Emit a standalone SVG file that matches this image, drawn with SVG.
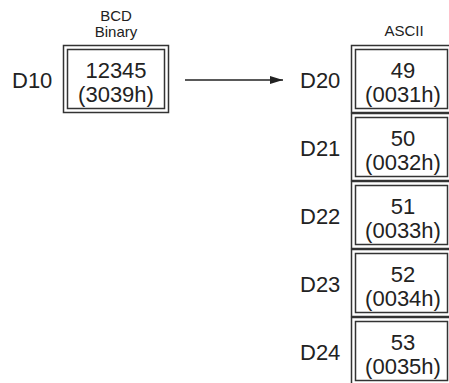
<svg xmlns="http://www.w3.org/2000/svg" width="449" height="383" viewBox="0 0 449 383">
<defs>
<style>
.t{font-family:"Liberation Sans",Arial,sans-serif;fill:#222;}
.big{font-size:22px;}
.sm{font-size:15px;}
.o{fill:none;stroke:#333;stroke-width:1.5;}
</style>
<marker id="ah" markerWidth="14" markerHeight="10" refX="13" refY="5" orient="auto" markerUnits="userSpaceOnUse">
<path d="M0,1 L13,5 L0,9 Z" fill="#222"/>
</marker>
</defs>
<rect width="449" height="383" fill="#fff"/>
<g id="src">
<text class="t sm" x="116" y="21" text-anchor="middle">BCD</text>
<text class="t sm" x="116" y="37" text-anchor="middle">Binary</text>
<text class="t big" x="12" y="88">D10</text>
<rect class="o" x="63.5" y="45.5" width="105" height="67"/>
<rect class="o" x="67.5" y="49.5" width="97" height="59"/>
<text class="t big" x="116" y="78" text-anchor="middle">12345</text>
<text class="t big" x="116" y="102" text-anchor="middle">(3039h)</text>
</g>
<g id="connectors">
<line x1="185" y1="80" x2="283" y2="80" stroke="#222" stroke-width="1.3" marker-end="url(#ah)"/>
</g>
<g id="dst">
<text class="t sm" x="404" y="36" text-anchor="middle">ASCII</text>
</g>
<g id="d20">
<text class="t big" x="300" y="88">D20</text>
<rect class="o" x="351.5" y="45.5" width="100" height="67"/>
<rect class="o" x="355.5" y="49.5" width="92" height="59"/>
<text class="t big" x="403" y="78" text-anchor="middle">49</text>
<text class="t big" x="403" y="102" text-anchor="middle">(0031h)</text>
</g>
<g id="d21">
<text class="t big" x="300" y="156">D21</text>
<rect class="o" x="351.5" y="113.5" width="100" height="67"/>
<rect class="o" x="355.5" y="117.5" width="92" height="59"/>
<text class="t big" x="403" y="146" text-anchor="middle">50</text>
<text class="t big" x="403" y="170" text-anchor="middle">(0032h)</text>
</g>
<g id="d22">
<text class="t big" x="300" y="224">D22</text>
<rect class="o" x="351.5" y="181.5" width="100" height="67"/>
<rect class="o" x="355.5" y="185.5" width="92" height="59"/>
<text class="t big" x="403" y="214" text-anchor="middle">51</text>
<text class="t big" x="403" y="238" text-anchor="middle">(0033h)</text>
</g>
<g id="d23">
<text class="t big" x="300" y="292">D23</text>
<rect class="o" x="351.5" y="249.5" width="100" height="67"/>
<rect class="o" x="355.5" y="253.5" width="92" height="59"/>
<text class="t big" x="403" y="282" text-anchor="middle">52</text>
<text class="t big" x="403" y="306" text-anchor="middle">(0034h)</text>
</g>
<g id="d24">
<text class="t big" x="300" y="360">D24</text>
<rect class="o" x="351.5" y="317.5" width="100" height="67"/>
<rect class="o" x="355.5" y="321.5" width="92" height="59"/>
<text class="t big" x="403" y="350" text-anchor="middle">53</text>
<text class="t big" x="403" y="374" text-anchor="middle">(0035h)</text>
</g>
</svg>
